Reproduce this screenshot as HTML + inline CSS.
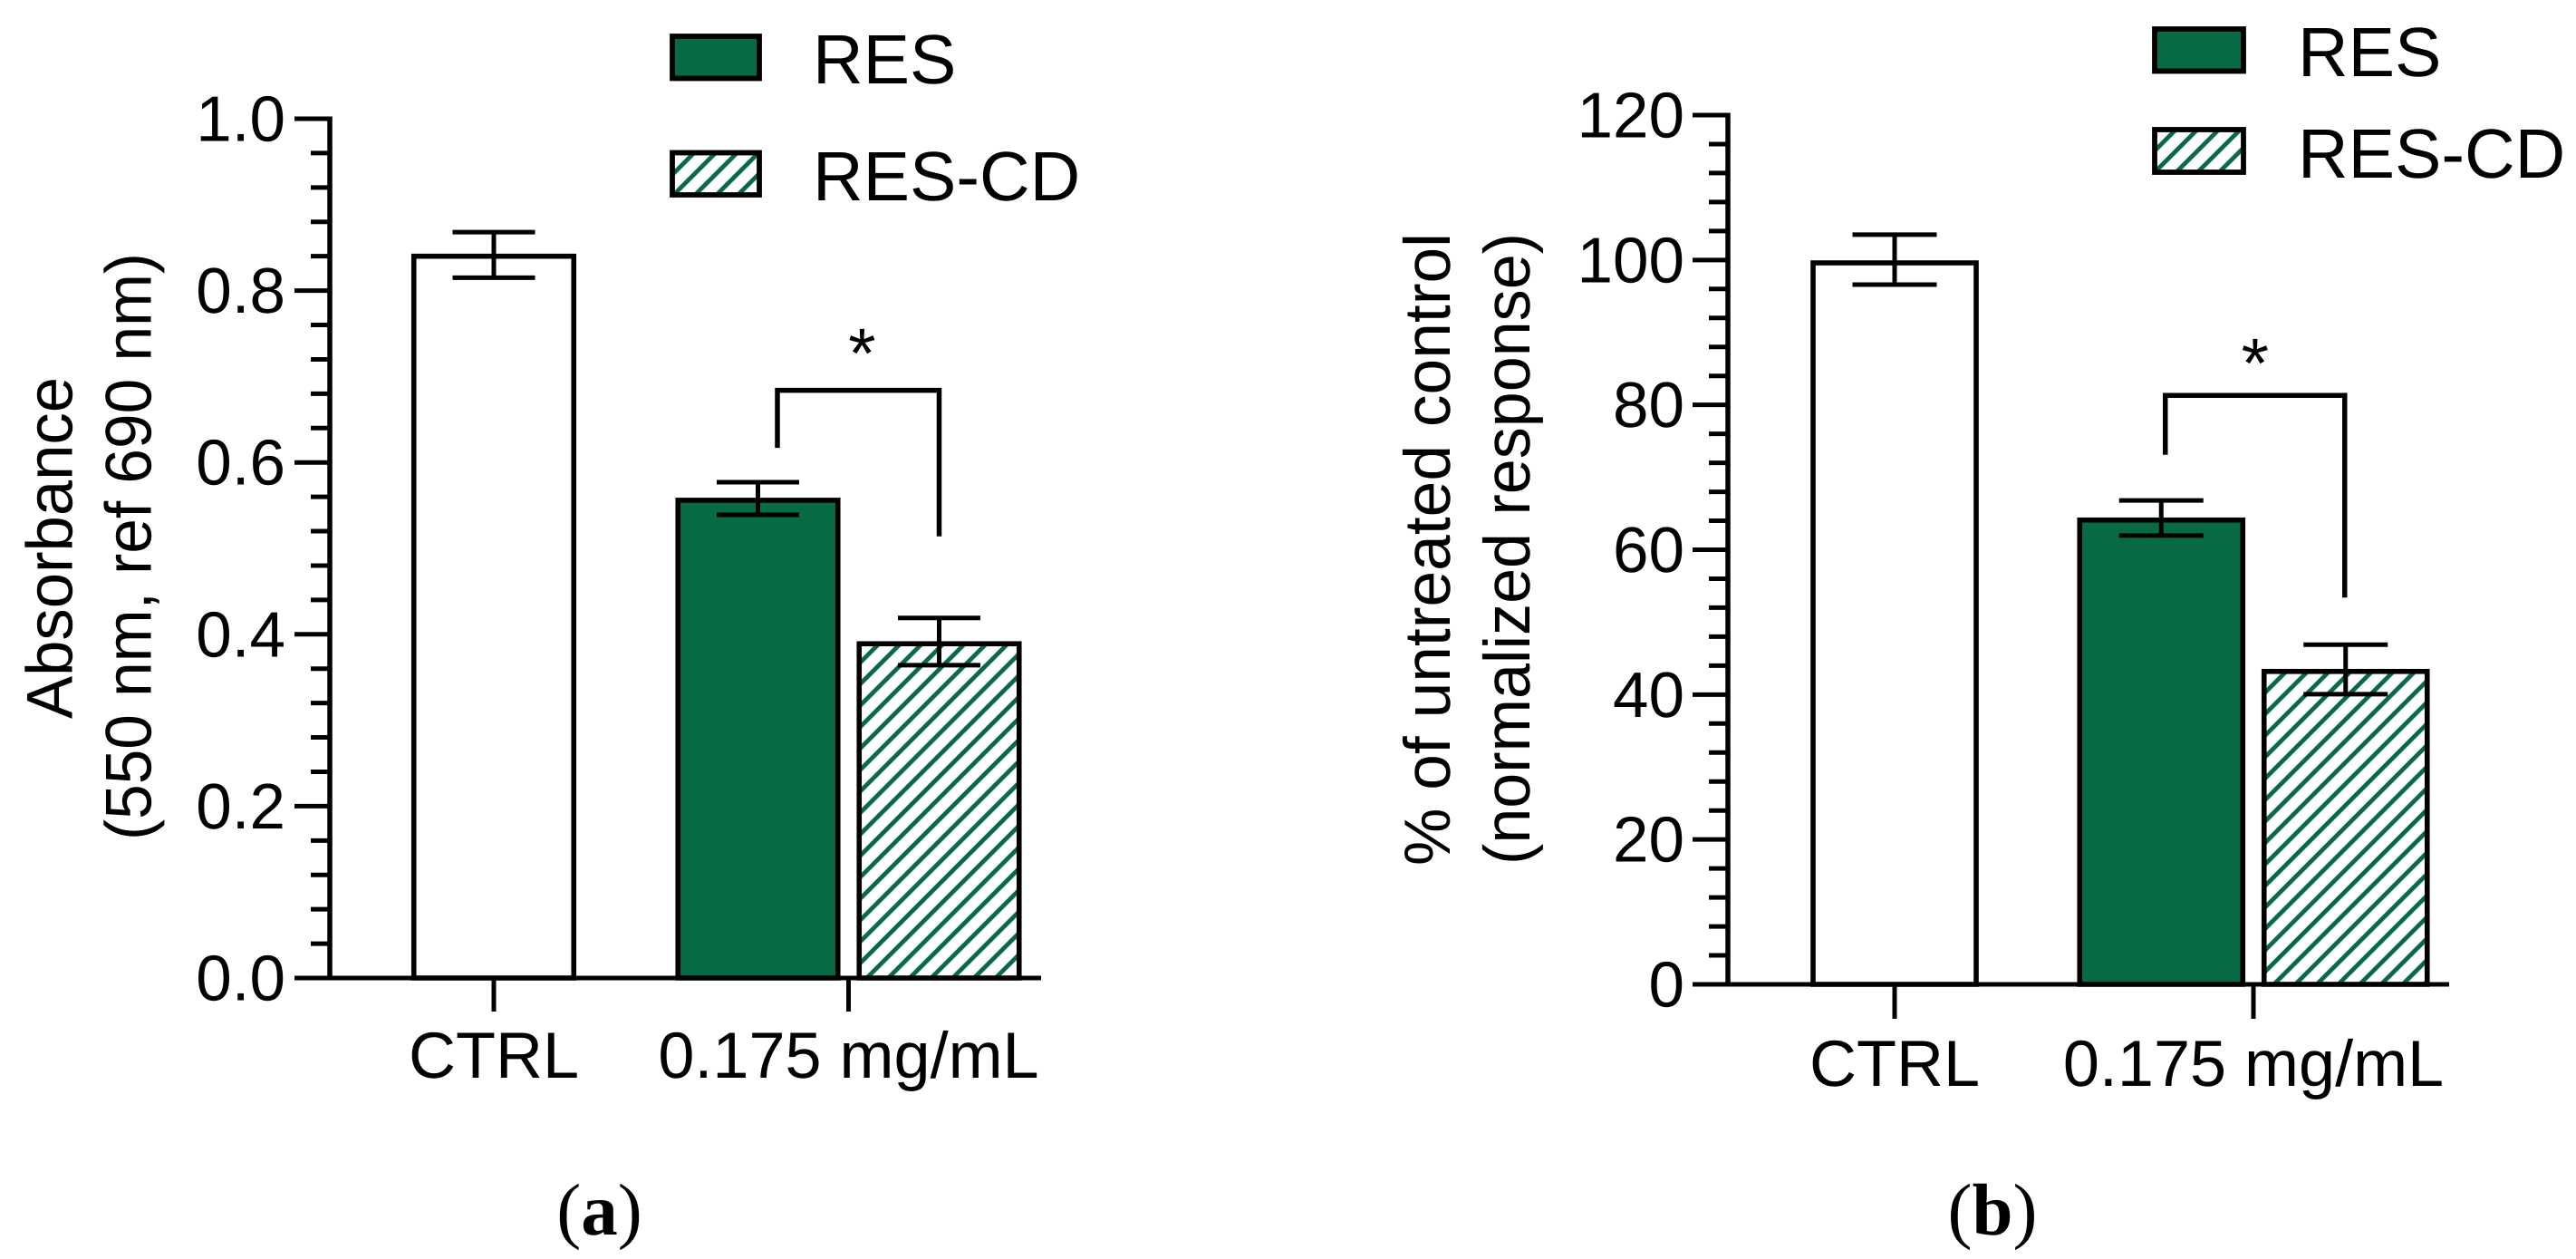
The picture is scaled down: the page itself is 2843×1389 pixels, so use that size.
<!DOCTYPE html>
<html lang="en">
<head>
<meta charset="utf-8">
<title>Absorbance and normalized response charts</title>
<style>
html,body{margin:0;padding:0;background:#fff;}
svg{display:block;}
text{font-family:"Liberation Sans",Arial,sans-serif;fill:#000;text-rendering:geometricPrecision;}
.cap{font-family:"Liberation Serif","Times New Roman",serif;font-size:81px;}
.cap tspan{font-weight:bold;}
.t{font-size:72px;}
.lg{font-size:77px;}
</style>
</head>
<body>
<svg id="figure" xmlns="http://www.w3.org/2000/svg" width="2843" height="1389" viewBox="0 0 2843 1389">
  <defs>
    <pattern id="hatch-a" patternUnits="userSpaceOnUse" width="40" height="16.75" patternTransform="rotate(-45) translate(0,13.25)"><rect width="40" height="16.75" fill="#fff"/><rect width="40" height="4.8" fill="#076a45"/></pattern>
    <pattern id="hatch-b" patternUnits="userSpaceOnUse" width="40" height="16.75" patternTransform="rotate(-45) translate(0,10.8)"><rect width="40" height="16.75" fill="#fff"/><rect width="40" height="4.8" fill="#076a45"/></pattern>
    <pattern id="hatch-la" patternUnits="userSpaceOnUse" width="40" height="16.75" patternTransform="rotate(-45) translate(0,5.3)"><rect width="40" height="16.75" fill="#fff"/><rect width="40" height="4.8" fill="#076a45"/></pattern>
    <pattern id="hatch-lb" patternUnits="userSpaceOnUse" width="40" height="16.75" patternTransform="rotate(-45) translate(0,4.5)"><rect width="40" height="16.75" fill="#fff"/><rect width="40" height="4.8" fill="#076a45"/></pattern>
  </defs>

  <g id="panel-a">
    <text class="t" text-anchor="middle" transform="translate(79.5,604.5) rotate(-90)" textLength="377" lengthAdjust="spacingAndGlyphs">Absorbance</text>
    <text class="t" text-anchor="middle" transform="translate(166.5,603) rotate(-90)" textLength="648" lengthAdjust="spacingAndGlyphs">(550 nm, ref 690 nm)</text>
    <g>
      <rect x="742" y="40" width="96" height="46.5" fill="#076a45" stroke="#000" stroke-width="5.8"/>
      <text class="lg" x="897" y="92">RES</text>
      <rect x="742" y="168.5" width="96" height="46.5" fill="url(#hatch-la)" stroke="#000" stroke-width="5.8"/>
      <text class="lg" x="897" y="221">RES-CD</text>
    </g>
    <text class="cap" x="661.5" y="1362" text-anchor="middle">(<tspan>a</tspan>)</text>
  </g>

  <g id="panel-b">
    <text class="t" text-anchor="middle" transform="translate(1600,606) rotate(-90)" textLength="698" lengthAdjust="spacingAndGlyphs">% of untreated control</text>
    <text class="t" text-anchor="middle" transform="translate(1688,605.5) rotate(-90)" textLength="697" lengthAdjust="spacingAndGlyphs">(normalized response)</text>
    <g>
      <rect x="2378" y="32" width="98" height="46.5" fill="#076a45" stroke="#000" stroke-width="5.8"/>
      <text class="lg" x="2536" y="84">RES</text>
      <rect x="2378" y="143" width="98" height="47" fill="url(#hatch-lb)" stroke="#000" stroke-width="5.8"/>
      <text class="lg" x="2536" y="196">RES-CD</text>
    </g>
    <text class="cap" x="2199" y="1362" text-anchor="middle">(<tspan>b</tspan>)</text>
  </g>
</svg>

<script>
// ---- Panel (a) data ----
const categoriesA = ['CTRL', '0.175 mg/mL'];
const barNamesA = ['ctrl', 'res', 'res-cd'];
const barValuesA = [0.84, 0.556, 0.389];
const errorUpperA = [0.868, 0.577, 0.419];
const errorLowerA = [0.815, 0.539, 0.364];
const tickValuesA = [0, 0.2, 0.4, 0.6, 0.8, 1.0];
const tickLabelsA = ['0.0', '0.2', '0.4', '0.6', '0.8', '1.0'];
const bracketA = [0.684, 0.617, 0.514];

// ---- Panel (b) data ----
const categoriesB = ['CTRL', '0.175 mg/mL'];
const barNamesB = ['ctrl', 'res', 'res-cd'];
const barValuesB = [99.6, 64.1, 43.2];
const errorUpperB = [103.5, 66.8, 46.9];
const errorLowerB = [96.6, 61.95, 40.05];
const tickValuesB = [0, 20, 40, 60, 80, 100, 120];
const tickLabelsB = ['0', '20', '40', '60', '80', '100', '120'];
const bracketB = [81.3, 73.1, 53.4];

// Which category each bar belongs to and its side within the category
const barGroups = [0, 1, 1];
const barSides = [0, -0.5, 0.5];
const barFills = ['#fff', '#076a45', null];

const NS = 'http://www.w3.org/2000/svg';

function makeLine(parent, x1, y1, x2, y2, width) {
  const ln = document.createElementNS(NS, 'line');
  ln.setAttribute('x1', x1);
  ln.setAttribute('y1', y1);
  ln.setAttribute('x2', x2);
  ln.setAttribute('y2', y2);
  ln.setAttribute('stroke', '#000');
  ln.setAttribute('stroke-width', width);
  parent.appendChild(ln);
  return ln;
}

function makeText(parent, x, y, size, anchor, str) {
  const t = document.createElementNS(NS, 'text');
  t.setAttribute('x', x);
  t.setAttribute('y', y);
  t.setAttribute('font-size', size);
  t.setAttribute('text-anchor', anchor);
  t.textContent = str;
  parent.appendChild(t);
  return t;
}

function drawPanel(parent, p) {
  const yScale = v => p.yZero - (v / p.yMax) * (p.yZero - p.yTop);
  const xScale = i => p.firstCenter + p.groupStep * barGroups[i] + p.barStep * barSides[i];
  const groupX = g => p.firstCenter + p.groupStep * g;

  // bars
  p.values.forEach((v, i) => {
    const cx = xScale(i);
    const bar = document.createElementNS(NS, 'rect');
    
    
    bar.setAttribute('x', cx - p.barWidth / 2);
    bar.setAttribute('y', yScale(v));
    bar.setAttribute('width', p.barWidth);
    bar.setAttribute('height', p.yZero - yScale(v));
    bar.setAttribute('fill', barFills[i] || p.hatch);
    bar.setAttribute('stroke', '#000');
    bar.setAttribute('stroke-width', 5.6);
    parent.appendChild(bar);
  });

  // error bars
  p.values.forEach((v, i) => {
    const cx = xScale(i);
    const g = document.createElementNS(NS, 'g');
    
    
    parent.appendChild(g);
    makeLine(g, cx, yScale(p.upper[i]), cx, yScale(p.lower[i]), 5);
    makeLine(g, cx - p.capWidth / 2, yScale(p.upper[i]), cx + p.capWidth / 2, yScale(p.upper[i]), 5);
    makeLine(g, cx - p.capWidth / 2, yScale(p.lower[i]), cx + p.capWidth / 2, yScale(p.lower[i]), 5);
  });

  // y axis
  const yAxis = document.createElementNS(NS, 'g');
  
  
  parent.appendChild(yAxis);
  makeLine(yAxis, p.axisX, yScale(p.yMax) - 2.5, p.axisX, p.yZero, 5.5);
  p.ticks.forEach((v, i) => {
    const y = yScale(v);
    makeLine(yAxis, p.majorX, y, p.axisX, y, 5);
    const lbl = makeText(yAxis, p.labelRight, y + 24.5, 71, 'end', p.tickLabels[i]);
    
    
    if (i < p.ticks.length - 1) {
      const step = (p.ticks[i + 1] - v) / 5;
      for (let m = 1; m < 5; m++) {
        const my = yScale(v + step * m);
        makeLine(yAxis, p.minorX, my, p.axisX, my, 5);
      }
    }
  });

  // x axis
  const xAxis = document.createElementNS(NS, 'g');
  
  
  parent.appendChild(xAxis);
  makeLine(xAxis, p.majorX, p.yZero, p.xEnd, p.yZero, 5);
  p.categories.forEach((c, g) => {
    const x = groupX(g);
    makeLine(xAxis, x, p.yZero, x, p.yZero + p.tickLen, 5);
    const lbl = makeText(xAxis, x, p.catBaseline, 72, 'middle', c);
    
    
  });

  // significance bracket
  const br = document.createElementNS(NS, 'polyline');
  
  
  const bl = xScale(1) + p.bracketLeftShift;
  const brx = xScale(2) + p.bracketRightShift;
  br.setAttribute('points', [bl, yScale(p.bracket[1]), bl, yScale(p.bracket[0]), brx, yScale(p.bracket[0]), brx, yScale(p.bracket[2])].join(' '));
  br.setAttribute('fill', 'none');
  br.setAttribute('stroke', '#000');
  br.setAttribute('stroke-width', 5.5);
  parent.appendChild(br);
  const star = makeText(parent, (bl + brx) / 2 + p.starShift, yScale(p.bracket[0]) - p.starGap, 78, 'middle', '*');
  
  
}

drawPanel(document.getElementById('panel-a'), {
  categories: categoriesA, names: barNamesA, values: barValuesA, upper: errorUpperA, lower: errorLowerA,
  ticks: tickValuesA, tickLabels: tickLabelsA, bracket: bracketA, yMax: 1.0,
  yZero: 1079, yTop: 131, axisX: 364, majorX: 325, minorX: 343, xEnd: 1149, labelRight: 315,
  firstCenter: 545, groupStep: 391.5, barStep: 200, barWidth: 176.5, capWidth: 91, tickLen: 37,
  catBaseline: 1189, hatch: 'url(#hatch-a)', bracketLeftShift: 21.5, bracketRightShift: 0, starShift: 4, starGap: 14
});

drawPanel(document.getElementById('panel-b'), {
  categories: categoriesB, names: barNamesB, values: barValuesB, upper: errorUpperB, lower: errorLowerB,
  ticks: tickValuesB, tickLabels: tickLabelsB, bracket: bracketB, yMax: 120,
  yZero: 1086, yTop: 127, axisX: 1907, majorX: 1868, minorX: 1886, xEnd: 2703, labelRight: 1859,
  firstCenter: 2091, groupStep: 396, barStep: 203.5, barWidth: 180, capWidth: 93, tickLen: 38,
  catBaseline: 1198, hatch: 'url(#hatch-b)', bracketLeftShift: 4.5, bracketRightShift: -1, starShift: 0, starGap: 8.6
});
</script>
</body>
</html>
